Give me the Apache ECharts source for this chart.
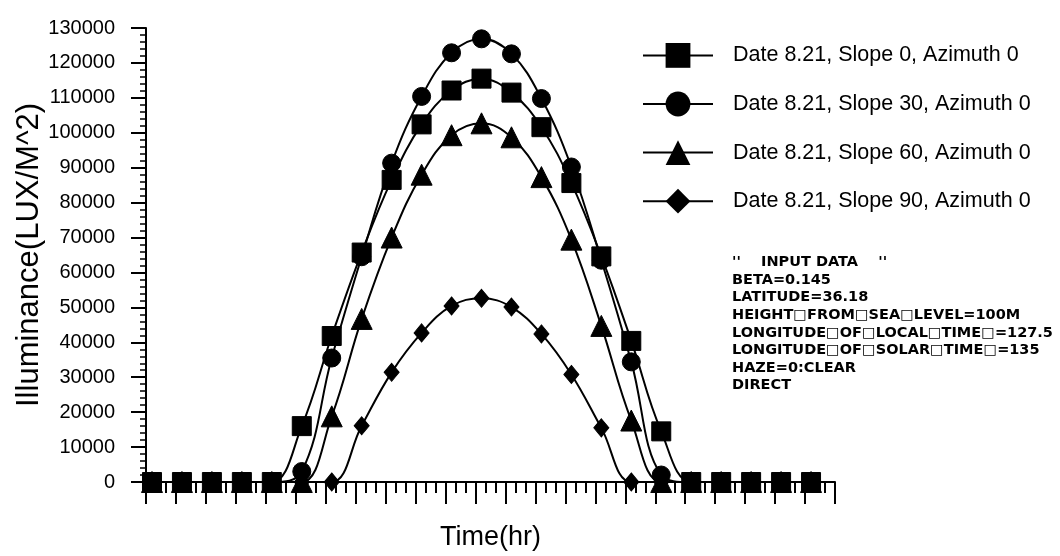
<!DOCTYPE html>
<html>
<head>
<meta charset="utf-8">
<script src="https://cdn.jsdelivr.net/npm/echarts@6/dist/echarts.min.js"></script>
<style>
html,body{margin:0;padding:0;background:#fff;}
#chart{width:1060px;height:556px;}
</style>
</head>
<body>
<div id="chart"></div>
<script>
// Time (hr) of each sample
const times = [0.2, 1.2, 2.2, 3.2, 4.2, 5.2, 6.2, 7.2, 8.2, 9.2, 10.2, 11.2, 12.2, 13.2, 14.2, 15.2, 16.2, 17.2, 18.2, 19.2, 20.2, 21.2, 22.2];
const seriesNames = [
  'Date 8.21, Slope 0, Azimuth 0',
  'Date 8.21, Slope 30, Azimuth 0',
  'Date 8.21, Slope 60, Azimuth 0',
  'Date 8.21, Slope 90, Azimuth 0'
];
const slope0  = [0, 0, 0, 0, 0, 16000, 41800, 65700, 86500, 102400, 112100, 115500, 111500, 101600, 85600, 64600, 40400, 14500, 0, 0, 0, 0, 0];
const slope30 = [0, 0, 0, 0, 0, 3000, 35500, 64500, 91300, 110400, 122900, 126900, 122600, 109800, 90200, 63500, 34400, 2000, 0, 0, 0, 0, 0];
const slope60 = [0, 0, 0, 0, 0, 0, 18800, 46700, 70000, 88000, 99300, 102700, 98700, 87300, 69400, 44700, 17600, 0, 0, 0, 0, 0, 0];
const slope90 = [0, 0, 0, 0, 0, 0, 0, 16100, 31400, 42700, 50400, 52600, 50100, 42400, 30800, 15500, 0, 0, 0, 0, 0, 0, 0];
const inputLines = [
  "''    INPUT DATA    ''",
  'BETA=0.145',
  'LATITUDE=36.18',
  'HEIGHT\u25A1FROM\u25A1SEA\u25A1LEVEL=100M',
  'LONGITUDE\u25A1OF\u25A1LOCAL\u25A1TIME\u25A1=127.5',
  'LONGITUDE\u25A1OF\u25A1SOLAR\u25A1TIME\u25A1=135',
  'HAZE=0:CLEAR',
  'DIRECT'
];

const seriesValues = [slope0, slope30, slope60, slope90];
const symbols = ['rect', 'circle', 'triangle', 'diamond'];
const symbolSizes = [19, 18, 21, [15, 18]];
const FONT = '"Liberation Sans", Arial, sans-serif';

const chart = echarts.init(document.getElementById('chart'), null, {renderer: 'canvas'});

const series = seriesValues.map((vals, i) => ({
  name: seriesNames[i],
  type: 'line',
  data: vals.map((v, k) => [times[k], v]),
  symbol: symbols[i],
  symbolSize: symbolSizes[i],
  showSymbol: true,
  smooth: 0.4,
  clip: true,
  lineStyle: {color: '#000', width: 2},
  itemStyle: {color: '#000', borderColor: '#000'},
  emphasis: {disabled: true},
  z: 2 + i
}));

const graphics = inputLines.map((t, i) => ({
  type: 'text',
  left: 732,
  top: 255 + i * 17.6,
  style: {
    text: t,
    fill: '#000',
    font: 'bold 14.5px "DejaVu Sans", sans-serif'
  }
}));

chart.setOption({
  animation: false,
  backgroundColor: '#fff',
  grid: {left: 146, right: 225, top: 28, bottom: 73, containLabel: false},
  legend: {
    orient: 'vertical',
    left: 637,
    top: 38,
    itemWidth: 70,
    itemHeight: 31,
    itemGap: 23.8,
    data: seriesNames,
    textStyle: {color: '#000', fontSize: 21.5, fontFamily: FONT, padding: [0, 0, 0, 15]},
    itemStyle: {color: '#000'},
    lineStyle: {color: '#000', width: 2}
  },
  xAxis: {
    type: 'value',
    min: 0,
    max: 23,
    interval: 1,
    name: 'Time(hr)',
    nameLocation: 'middle',
    nameGap: 42,
    nameTextStyle: {color: '#000', fontSize: 27, fontFamily: FONT},
    axisLine: {show: true, lineStyle: {color: '#000', width: 2}},
    axisTick: {show: true, length: 22, lineStyle: {color: '#000', width: 2}},
    minorTick: {show: true, splitNumber: 3, length: 11, lineStyle: {color: '#000', width: 2}},
    axisLabel: {show: false},
    splitLine: {show: false}
  },
  yAxis: {
    type: 'value',
    min: 0,
    max: 130000,
    interval: 10000,
    name: 'Illuminance(LUX/M^2)',
    nameLocation: 'middle',
    nameGap: 101,
    nameMoveOverlap: false,
    nameTextStyle: {color: '#000', fontSize: 31, fontFamily: FONT},
    axisLine: {show: true, lineStyle: {color: '#000', width: 2}},
    axisTick: {show: true, length: 15, lineStyle: {color: '#000', width: 2}},
    minorTick: {show: true, splitNumber: 5, length: 6, lineStyle: {color: '#000', width: 1.5}},
    axisLabel: {color: '#000', fontSize: 20, fontFamily: FONT, margin: 31, formatter: (v) => String(v)},
    splitLine: {show: false}
  },
  graphic: graphics,
  series: series
});
</script>
</body>
</html>
